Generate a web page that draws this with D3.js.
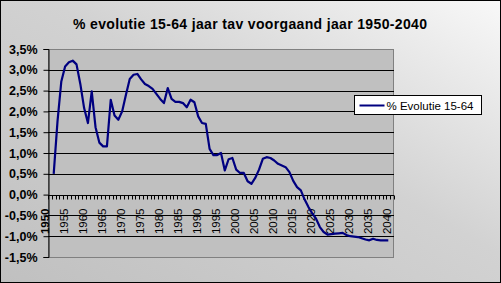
<!DOCTYPE html>
<html>
<head>
<meta charset="utf-8">
<script src="https://cdn.jsdelivr.net/npm/d3@7"></script>
<style>
  html, body { margin: 0; padding: 0; background: #fff; }
  svg { display: block; font-family: 'Liberation Sans', Arial, sans-serif; }
</style>
</head>
<body>
<svg id="chart"></svg>
<script>
// categories: every year 1950-2040 on the axis, data starts in 1951
const years = d3.range(1950, 2041);
const dataYears = d3.range(1951, 2040);
// % evolutie 15-64 tav voorgaand jaar
const evolutie = [
  0.50, 1.76, 2.72, 3.08, 3.18, 3.22, 3.13, 2.66, 2.08, 1.72,
  2.48, 1.62, 1.25, 1.16, 1.16, 2.28, 1.90, 1.80, 2.00, 2.40,
  2.78, 2.88, 2.90, 2.77, 2.66, 2.61, 2.54, 2.42, 2.30, 2.20,
  2.56, 2.30, 2.23, 2.23, 2.20, 2.10, 2.28, 2.22, 1.88, 1.72,
  1.70, 1.10, 0.95, 0.95, 1.00, 0.58, 0.85, 0.88, 0.60, 0.52,
  0.52, 0.32, 0.26, 0.40, 0.60, 0.86, 0.90, 0.88, 0.82, 0.74,
  0.70, 0.66, 0.54, 0.33, 0.18, 0.10, -0.12, -0.30, -0.45, -0.58,
  -0.78, -0.90, -0.96, -0.95, -0.94, -0.93, -0.92, -0.97, -1.00, -1.01,
  -1.02, -1.05, -1.08, -1.10, -1.06, -1.09, -1.10, -1.10, -1.10
];
const yTicks = [-1.5, -1.0, -0.5, 0, 0.5, 1.0, 1.5, 2.0, 2.5, 3.0, 3.5];
const labelYears = d3.range(1950, 2041, 5);
const title = '% evolutie 15-64 jaar tav voorgaand jaar 1950-2040';
const seriesName = '% Evolutie 15-64';

const width = 501, height = 283;
const plot = { left: 48, top: 49, right: 394, bottom: 257 };
const navy = '#000080';

const svg = d3.select('#chart').attr('width', width).attr('height', height);

// achtergrond met verloop
const grad = svg.append('defs').append('linearGradient')
  .attr('id', 'bg').attr('x1', 0).attr('y1', 1).attr('x2', 1).attr('y2', 0);
grad.append('stop').attr('offset', 0).attr('stop-color', '#c0c0c0');
grad.append('stop').attr('offset', 0.55).attr('stop-color', '#d2d2d2');
grad.append('stop').attr('offset', 1).attr('stop-color', '#f8f8f8');
svg.append('rect')
  .attr('x', 0.5).attr('y', 0.5).attr('width', width - 1).attr('height', height - 1)
  .attr('fill', 'url(#bg)').attr('stroke', '#000');

svg.append('text')
  .attr('x', 250).attr('y', 28.5)
  .attr('text-anchor', 'middle')
  .attr('font-size', 14).attr('font-weight', 'bold')
  .attr('textLength', 354).attr('lengthAdjust', 'spacing')
  .text(title);

const x = d3.scaleBand(years, [plot.left, plot.right]);
const y = d3.scaleLinear([-1.5, 3.5], [plot.bottom, plot.top]);
const cx = (yr) => x(yr) + x.bandwidth() / 2;

// plot gebied
svg.append('rect')
  .attr('x', plot.left + 0.5).attr('y', plot.top + 0.5)
  .attr('width', plot.right - plot.left - 1).attr('height', plot.bottom - plot.top)
  .attr('fill', '#c0c0c0').attr('stroke', '#808080');

// rasterlijnen
svg.append('g')
  .selectAll('line')
  .data(yTicks.filter((t) => t > -1.5 && t < 3.5))
  .join('line')
  .attr('x1', plot.left).attr('x2', plot.right)
  .attr('y1', (d) => Math.round(y(d)) + 0.5).attr('y2', (d) => Math.round(y(d)) + 0.5)
  .attr('stroke', '#000');

// Y-as
const yAxis = d3.axisLeft(y)
  .tickValues(yTicks)
  .tickSize(5)
  .tickPadding(6)
  .tickFormat((d) => d3.format('.1f')(d).replace('.', ',').replace('−', '-') + '%');
svg.append('g')
  .attr('transform', `translate(${plot.left + 0.5},0)`)
  .call(yAxis)
  .call((g) => g.selectAll('.tick line').attr('stroke', '#000'))
  .call((g) => g.select('.domain').attr('stroke', '#000'))
  .call((g) => g.selectAll('.tick text')
    .attr('font-family', "'Liberation Sans', Arial, sans-serif")
    .attr('font-size', 12.5).attr('font-weight', 'bold').attr('fill', '#000'));

// X-as op 0%
const y0 = Math.round(y(0)) + 0.5;
const xAxis = svg.append('g').attr('transform', `translate(0,${y0})`);
xAxis.append('line')
  .attr('x1', plot.left).attr('x2', plot.right).attr('stroke', '#000');
xAxis.append('g')
  .selectAll('line')
  .data(years.concat([2041]))
  .join('line')
  .attr('x1', (d) => Math.round(d === 2041 ? plot.right : x(d)) + 0.5)
  .attr('x2', (d) => Math.round(d === 2041 ? plot.right : x(d)) + 0.5)
  .attr('y1', 0).attr('y2', 4)
  .attr('stroke', '#000');
xAxis.append('g')
  .selectAll('text')
  .data(labelYears)
  .join('text')
  .attr('transform', (d) => `translate(${cx(d) - 5},13) rotate(-90)`)
  .attr('text-anchor', 'end')
  .attr('dy', '0.35em')
  .attr('font-size', 11.5)
  .attr('font-weight', (d) => (d === 1950 ? 'bold' : null))
  .text((d) => d);

// lijn
const line = d3.line()
  .x((d, i) => cx(dataYears[i]))
  .y((d) => y(d))
  .curve(d3.curveLinear);
svg.append('path')
  .attr('d', line(evolutie))
  .attr('fill', 'none')
  .attr('stroke', navy)
  .attr('stroke-width', 2.2)
  .attr('stroke-linejoin', 'round');

// legende
const legend = svg.append('g').attr('transform', 'translate(354.5,95.5)');
legend.append('rect')
  .attr('width', 127).attr('height', 19)
  .attr('fill', '#fff').attr('stroke', '#000');
legend.append('line')
  .attr('x1', 5).attr('x2', 30).attr('y1', 10).attr('y2', 10)
  .attr('stroke', navy).attr('stroke-width', 2);
legend.append('text')
  .attr('x', 32).attr('y', 14)
  .attr('font-size', 11.5)
  .text(seriesName);
</script>
</body>
</html>
